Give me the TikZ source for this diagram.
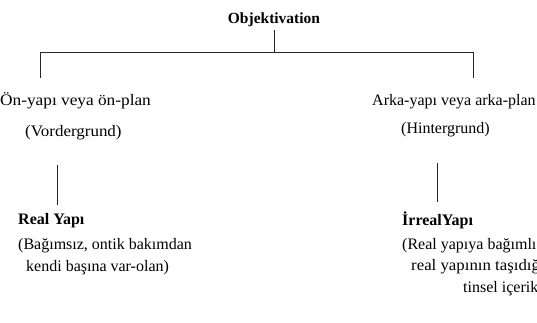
\documentclass[tikz,border=0pt]{standalone}
\usepackage{fontspec}
\usepackage{graphicx}
\setmainfont{Liberation Serif}
\begin{document}
\begin{tikzpicture}[x=1pt,y=-1pt,
  txt/.style={inner sep=0pt,anchor=base west,font=\fontsize{16}{18}\selectfont},
  btxt/.style={inner sep=0pt,anchor=base west,font=\fontsize{16}{18}\selectfont\bfseries},
  ln/.style={line width=1pt,black!85}]
\clip (0,0) rectangle (537,322);
\fill[white] (0,0) rectangle (537,322);
% top
\node[inner sep=0pt,anchor=base,font=\fontsize{15.5}{18}\selectfont\bfseries] (obj) at (274,23) {Objektivation};
\coordinate (top) at (274,30);
\coordinate (mid) at (274,52);
\coordinate (hl) at (40,52);
\coordinate (hr) at (474,52);
\coordinate (vl) at (40,78);
\coordinate (vr) at (473,78);
\draw[ln] (top) -- (mid);
\draw[ln] (hl) -- (hr);
\draw[ln] (hl) -- (vl);
\coordinate (hr2) at (473,52);
\draw[ln] (hr2) -- (vr);
% left
\node[txt] (on) at (0,105) {\scalebox{1.08}[1]{Ön-yapı veya ön-plan}};
\node[txt] (vord) at (25,136) {\scalebox{1.06}[1]{(Vordergrund)}};
\coordinate (l1) at (57,165);
\coordinate (l2) at (57,205);
\draw[ln] (l1) -- (l2);
\node[btxt] (real) at (18,224) {Real Yapı};
\node[txt] (real1) at (18,249) {(Bağımsız, ontik bakımdan};
\node[txt] (real2) at (26,271) {kendi başına var-olan)};
% right
\node[txt] (arka) at (372,105) {Arka-yapı veya arka-plan};
\node[txt] (hint) at (401,133) {(Hintergrund)};
\coordinate (r1) at (437,163);
\coordinate (r2) at (437,202);
\draw[ln] (r1) -- (r2);
\node[btxt] (irreal) at (402,225) {İrrealYapı};
\node[txt] (irr1) at (402,249) {(Real yapıya bağımlı};
\node[txt] (irr2) at (411,270) {\scalebox{1.05}[1]{real yapının taşıdığı}};
\node[txt] (irr3) at (463,292) {tinsel içerik};
\end{tikzpicture}
\end{document}
